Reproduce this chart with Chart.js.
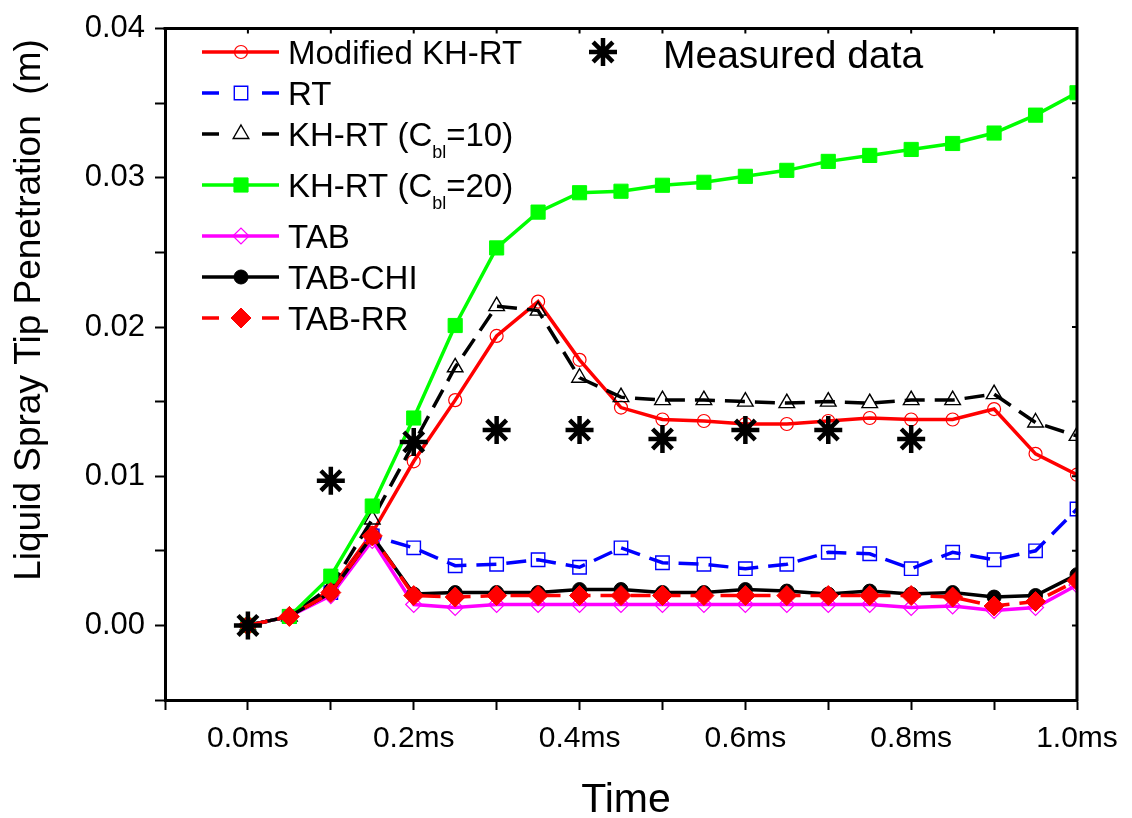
<!DOCTYPE html>
<html><head><meta charset="utf-8">
<script src="https://cdn.jsdelivr.net/npm/chart.js@4.4.0/dist/chart.umd.min.js"></script>
<style>html,body{margin:0;padding:0;background:#fff}</style>
</head><body>
<canvas id="c" width="1132" height="818" style="display:block;width:1132px;height:818px"></canvas>
<script>
const timeMs = [0,0.05,0.1,0.15,0.2,0.25,0.3,0.35,0.4,0.45,0.5,0.55,0.6,0.65,0.7,0.75,0.8,0.85,0.9,0.95,1.0];
const modifiedKHRT = [0,0.0006,0.0024,0.0062,0.0110,0.0151,0.0194,0.0217,0.0178,0.0146,0.0138,0.0137,0.0135,0.0135,0.0137,0.0139,0.0138,0.0138,0.0145,0.0115,0.0101];
const rtModel = [0,0.0006,0.0022,0.0060,0.0052,0.0040,0.0041,0.0044,0.0039,0.0052,0.0042,0.0041,0.0038,0.0041,0.0049,0.0048,0.0038,0.0049,0.0044,0.0050,0.0078];
const khrtCbl10 = [0,0.0006,0.0026,0.0071,0.0122,0.0173,0.0214,0.0211,0.0166,0.0153,0.0151,0.0151,0.0150,0.0149,0.0150,0.0149,0.0151,0.0151,0.0155,0.0136,0.0127];
const khrtCbl20 = [0,0.0006,0.0033,0.0080,0.0139,0.0201,0.0253,0.0277,0.0290,0.0291,0.0295,0.0297,0.0301,0.0305,0.0311,0.0315,0.0319,0.0323,0.0330,0.0342,0.0357];
const tabModel = [0,0.0006,0.0020,0.0057,0.0014,0.0012,0.0014,0.0014,0.0014,0.0014,0.0014,0.0014,0.0014,0.0014,0.0014,0.0014,0.0012,0.0013,0.0010,0.0012,0.0027];
const tabChi = [0,0.0006,0.0022,0.0060,0.0021,0.0022,0.0022,0.0022,0.0024,0.0024,0.0022,0.0022,0.0024,0.0023,0.0021,0.0023,0.0021,0.0022,0.0019,0.0020,0.0034];
const tabRR = [0,0.0006,0.0022,0.0060,0.0020,0.0019,0.0020,0.0020,0.0020,0.0020,0.0020,0.0020,0.0020,0.0020,0.0020,0.0020,0.0020,0.0019,0.0013,0.0016,0.0030];
const measuredTime = [0,0.1,0.2,0.3,0.4,0.5,0.6,0.7,0.8];
const measuredValues = [0,0.0097,0.0123,0.0131,0.0131,0.0125,0.0131,0.0131,0.0125];

const seriesLabels = ['Modified KH-RT','RT','KH-RT (Cbl=10)','KH-RT (Cbl=20)','TAB','TAB-CHI','TAB-RR'];
const legendSegments = [
  [['Modified KH-RT',0]],
  [['RT',0]],
  [['KH-RT (C',0],['bl',1],['=10)',0]],
  [['KH-RT (C',0],['bl',1],['=20)',0]],
  [['TAB',0]],
  [['TAB-CHI',0]],
  [['TAB-RR',0]]
];
const measuredLabel = 'Measured data';
const xAxisTitle = 'Time';
const yAxisTitle = 'Liquid Spray Tip Penetration  (m)';

const FONT = "'Liberation Sans', Arial, Helvetica, sans-serif";
const TRANSPARENT = 'rgba(0,0,0,0)';

function pts(xs, ys){ return xs.map((x,i)=>({x:x, y:ys[i]})); }

const styles = [
  {color:'#ff0000', dash:[], pointStyle:'circle', r:6.5, fill:false, pbw:1.2},
  {color:'#0000ff', dash:[20,10], pointStyle:'rect', r:9.5, fill:false, pbw:1.4},
  {color:'#000000', dash:[20,10], pointStyle:'triangle', r:9, fill:false, pbw:1.4},
  {color:'#00ff00', dash:[], pointStyle:'rect', r:10, fill:true, pbw:1},
  {color:'#ff00ff', dash:[], pointStyle:'rectRot', r:8, fill:false, pbw:1.2},
  {color:'#000000', dash:[], pointStyle:'circle', r:7, fill:true, pbw:1},
  {color:'#ff0000', dash:[20,10], pointStyle:'rectRot', r:10, fill:true, pbw:1}
];
const seriesValues = [modifiedKHRT, rtModel, khrtCbl10, khrtCbl20, tabModel, tabChi, tabRR];

const datasets = seriesValues.map((vals,i)=>{
  const s = styles[i];
  return {
    label: seriesLabels[i],
    data: pts(timeMs, vals),
    borderColor: s.color,
    borderWidth: 3.5,
    borderDash: s.dash,
    pointStyle: s.pointStyle,
    pointRadius: s.r,
    pointHoverRadius: s.r,
    pointBorderColor: s.color,
    pointBorderWidth: s.pbw,
    pointBackgroundColor: s.fill ? s.color : TRANSPARENT,
    fill: false,
    tension: 0,
    order: 20 - i,
    _legendSegments: legendSegments[i]
  };
});
datasets.push({
  label: measuredLabel,
  data: pts(measuredTime, measuredValues),
  showLine: false,
  borderColor: '#000',
  pointStyle: 'star',
  pointRadius: 14,
  pointHoverRadius: 14,
  pointBorderColor: '#000',
  pointBorderWidth: 4.5,
  pointBackgroundColor: '#000',
  order: 0
});

function drawMarker(ctx, ds, x, y){
  const opts = {pointStyle: ds.pointStyle, radius: ds.pointRadius, rotation: 0, borderWidth: ds.pointBorderWidth};
  ctx.save();
  ctx.setLineDash([]);
  ctx.strokeStyle = ds.pointBorderColor;
  ctx.fillStyle = ds.pointBackgroundColor;
  ctx.lineWidth = ds.pointBorderWidth;
  Chart.helpers.drawPoint(ctx, opts, x, y);
  ctx.restore();
}

const decorPlugin = {
  id: 'decor',
  afterDraw(chart){
    const ctx = chart.ctx;
    const a = chart.chartArea;
    const xs = chart.scales.x, ys = chart.scales.y;
    ctx.save();
    ctx.strokeStyle = '#000';
    ctx.lineWidth = 3;
    ctx.beginPath();
    ctx.moveTo(a.left - 1.5, a.top); ctx.lineTo(a.right, a.top); ctx.lineTo(a.right, a.bottom + 1.5);
    ctx.stroke();
    ctx.lineWidth = 2;
    ctx.beginPath();
    xs.ticks.forEach(t=>{ const px = xs.getPixelForValue(t.value); ctx.moveTo(px, a.top); ctx.lineTo(px, a.top + 5); });
    ys.ticks.forEach(t=>{ const py = ys.getPixelForValue(t.value); ctx.moveTo(a.right, py); ctx.lineTo(a.right - 5, py); });
    ctx.stroke();

    ctx.fillStyle = '#000';
    ctx.font = '41px ' + FONT;
    ctx.textAlign = 'center';
    ctx.textBaseline = 'alphabetic';
    ctx.fillText(xAxisTitle, (a.left + a.right)/2 + 5, 812);
    ctx.save();
    ctx.translate(40, 310);
    ctx.rotate(-Math.PI/2);
    ctx.font = '37px ' + FONT;
    ctx.fillText(yAxisTitle, 0, 0);
    ctx.restore();

    const rowY = [52, 93, 134, 185, 236, 277, 318];
    const lx0 = 202, lx1 = 279, mx = 241, tx = 288;
    chart.data.datasets.forEach((ds, i)=>{
      if (!ds._legendSegments) return;
      const y = rowY[i];
      ctx.save();
      ctx.strokeStyle = ds.borderColor;
      ctx.lineWidth = 3.5;
      ctx.setLineDash([]);
      ctx.beginPath();
      if (ds.borderDash && ds.borderDash.length){
        ctx.moveTo(lx0, y); ctx.lineTo(lx0 + 17, y);
        ctx.moveTo(lx1 - 17, y); ctx.lineTo(lx1, y);
      } else {
        ctx.moveTo(lx0, y); ctx.lineTo(lx1, y);
      }
      ctx.stroke();
      ctx.restore();
      drawMarker(ctx, ds, mx, y);
      let x = tx;
      ctx.textAlign = 'left';
      ctx.fillStyle = '#000';
      ds._legendSegments.forEach(seg=>{
        if (seg[1]){
          ctx.font = '18px ' + FONT;
          ctx.fillText(seg[0], x, y + 24);
        } else {
          ctx.font = '33px ' + FONT;
          ctx.fillText(seg[0], x, y + 12);
        }
        x += ctx.measureText(seg[0]).width;
      });
    });
    const m = chart.data.datasets[chart.data.datasets.length - 1];
    drawMarker(ctx, m, 603, 52);
    ctx.font = '39px ' + FONT;
    ctx.fillStyle = '#000';
    ctx.textAlign = 'left';
    ctx.fillText(m.label, 663, 68);
    ctx.restore();
  }
};

new Chart(document.getElementById('c'), {
  type: 'line',
  data: { datasets: datasets },
  options: {
    responsive: false,
    animation: false,
    devicePixelRatio: 1,
    layout: { padding: { top: 22, right: 55, left: 0, bottom: 0 } },
    plugins: { legend: { display: false }, tooltip: { enabled: false } },
    scales: {
      x: {
        type: 'linear', min: -0.1, max: 1.0,
        afterFit(s){ s.height = 118; },
        ticks: {
          stepSize: 0.1, autoSkip: false, maxRotation: 0, padding: 11,
          color: '#000', font: { size: 30, family: FONT },
          callback(v){ const k = Math.round(v*10); return (k >= 0 && k % 2 === 0) ? (k/10).toFixed(1) + 'ms' : ''; }
        },
        grid: { drawOnChartArea: false, drawTicks: true, tickLength: 10, tickWidth: 2, tickColor: '#000' },
        border: { display: true, color: '#000', width: 3 }
      },
      y: {
        type: 'linear', min: -0.005, max: 0.04,
        afterFit(s){ s.width = 165; },
        ticks: {
          stepSize: 0.005, autoSkip: false, padding: 10,
          color: '#000', font: { size: 31, family: FONT },
          callback(v){ const k = Math.round(v*1000); return (k >= 0 && k % 10 === 0) ? v.toFixed(2) : ''; }
        },
        grid: { drawOnChartArea: false, drawTicks: true, tickLength: 10, tickWidth: 2, tickColor: '#000' },
        border: { display: true, color: '#000', width: 3 }
      }
    }
  },
  plugins: [decorPlugin]
});
</script>
</body></html>
